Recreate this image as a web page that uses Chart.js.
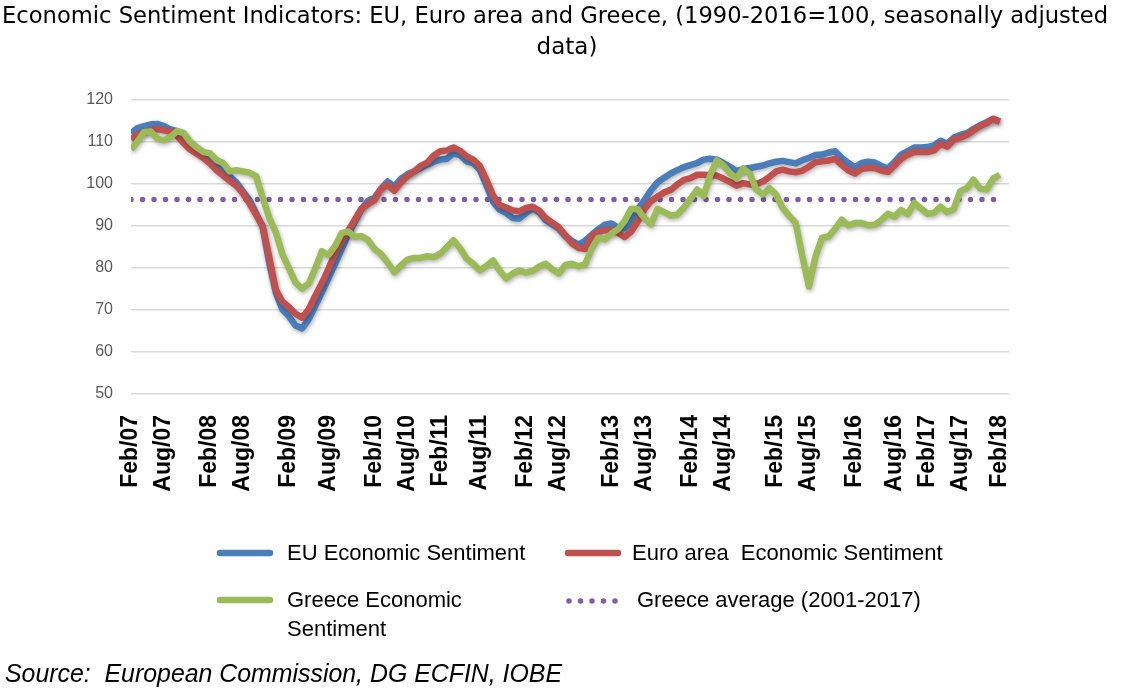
<!DOCTYPE html>
<html>
<head>
<meta charset="utf-8">
<script src="https://cdn.jsdelivr.net/npm/chart.js@4.4.0/dist/chart.umd.min.js"></script>
<style>
  html, body { margin: 0; padding: 0; background: #fff; }
  canvas { display: block; }
</style>
</head>
<body>
<canvas id="myChart" width="1126" height="695"></canvas>
<script>
// monthly values (first point = Feb/07, last = Feb/18)
const euSentiment = [
  112.1, 113.3, 113.8, 114.2, 114.3, 113.8, 113.0, 112.6, 111.8, 109.6, 108.5, 107.4,
  105.8, 104.3, 103.2, 101.8, 100.4, 98.2, 96.2, 93.0, 89.8, 81.3, 74.2, 70.1,
  68.5, 66.3, 65.6, 67.8, 71.0, 74.2, 77.6, 81.0, 84.5, 88.0, 91.0, 94.0,
  96.0, 96.7, 98.9, 100.6, 99.4, 101.2, 102.3, 103.0, 103.8, 104.6, 105.3, 105.8,
  106.0, 107.3, 106.9, 105.4, 105.0, 103.4, 99.7, 95.8, 93.9, 93.1, 91.9, 91.8,
  93.1, 94.2, 93.3, 91.4, 90.4, 89.4, 87.6, 86.4, 85.6, 86.5, 87.9, 89.2,
  90.3, 90.6, 89.6, 89.4, 91.0, 93.9, 96.2, 98.5, 100.4, 101.5, 102.5, 103.3,
  104.0, 104.5, 105.0, 105.8, 106.0, 105.8, 105.0, 104.1, 103.1, 103.5, 103.8, 104.1,
  104.4, 104.9, 105.3, 105.5, 105.2, 104.9, 105.7, 106.2, 106.9, 107.0, 107.5, 107.8,
  106.2, 105.0, 104.0, 105.0, 105.3, 105.1, 104.3, 103.7, 105.2, 107.0, 107.8, 108.7,
  108.7, 108.8, 109.2, 110.3, 109.6, 111.0, 111.7, 112.1, 113.1, 114.0, 114.7, 115.5, 114.9
];
const euroAreaSentiment = [
  110.6, 111.8, 112.3, 112.8, 113.1, 112.8, 112.5, 111.5, 109.7, 108.2, 107.2, 106.2,
  104.9, 103.3, 102.0, 100.8, 99.6, 97.8, 95.4, 92.7, 90.0, 82.5, 74.8, 72.0,
  70.7, 69.1, 68.2, 70.2, 73.4, 76.4, 79.8, 83.5, 86.3, 88.9, 91.5, 94.1,
  95.2, 96.2, 98.9, 99.8, 98.4, 100.4, 101.9, 103.0, 104.3, 105.1, 106.8, 107.8,
  108.0, 108.7, 107.9, 106.6, 105.8, 104.3, 101.0, 97.3, 95.0, 94.4, 93.7, 93.5,
  94.3, 94.6, 93.7, 91.9, 90.8, 89.7, 87.8, 85.9, 84.8, 84.5, 87.5, 88.6,
  89.0, 89.1, 88.4, 87.4, 88.7, 91.1, 94.0, 95.9, 97.0, 98.0, 98.6, 99.9,
  101.0, 101.4, 102.2, 102.2, 102.1, 102.0, 101.3, 100.5, 99.6, 100.2, 99.9, 100.0,
  100.6, 101.7, 103.0, 103.4, 103.0, 102.8, 103.2, 104.1, 105.2, 105.4, 105.6, 106.0,
  104.5, 103.2, 102.5, 103.6, 103.8, 103.8, 103.2, 102.9, 104.4, 106.0, 107.0, 107.6,
  107.6, 107.6, 108.0, 109.6, 108.9, 110.6, 111.0, 111.7, 112.8, 113.8, 114.5, 115.5, 114.8
];
const greeceSentiment = [
  108.2, 110.2, 112.4, 112.5, 110.8, 110.4, 111.2, 112.6, 112.1, 110.0, 108.7, 107.6,
  107.3, 105.7, 105.0, 103.0, 103.3, 103.0, 102.7, 101.9, 96.8, 92.0, 88.5, 83.3,
  79.9, 76.5, 75.1, 76.3, 79.9, 84.0, 83.1, 85.2, 88.3, 88.7, 87.4, 87.6,
  86.7, 84.5, 83.3, 81.3, 79.0, 80.6, 82.0, 82.4, 82.4, 82.8, 82.6, 83.4,
  85.0, 86.6, 84.7, 82.2, 81.0, 79.4, 80.5, 81.8, 79.4, 77.5, 78.7, 79.4,
  78.9, 79.3, 80.3, 81.0, 79.7, 78.7, 80.7, 81.0, 80.4, 80.9, 84.6, 87.2,
  86.8, 88.2, 89.2, 91.2, 94.1, 94.0, 91.9, 90.4, 94.1, 93.3, 92.5, 92.7,
  94.4, 96.4, 98.7, 97.1, 102.1, 105.6, 104.5, 102.6, 101.3, 103.7, 102.5, 98.7,
  97.5, 99.0, 97.5, 94.3, 92.4, 90.7, 82.8, 75.6, 82.8, 87.2, 87.5, 89.4,
  91.5, 90.1, 90.7, 90.7, 90.2, 90.3, 91.4, 92.9, 92.2, 93.8, 92.8, 95.5,
  94.2, 92.9, 93.1, 94.6, 93.3, 94.0, 98.3, 99.0, 101.0, 98.9, 98.7, 101.3, 102.2
];
const greeceAverage = 96.3;

// axis labels and the point index each one sits under
const tickLabels = ['Feb/07', 'Aug/07', 'Feb/08', 'Aug/08', 'Feb/09', 'Aug/09', 'Feb/10', 'Aug/10',
  'Feb/11', 'Aug/11', 'Feb/12', 'Aug/12', 'Feb/13', 'Aug/13', 'Feb/14', 'Aug/14', 'Feb/15',
  'Aug/15', 'Feb/16', 'Aug/16', 'Feb/17', 'Aug/17', 'Feb/18'];
const tickIndex = [0, 5, 12, 17, 24, 30, 37, 42, 47, 53, 60, 65, 73, 78, 85, 90, 98, 103, 110, 116, 121, 126, 132];

const seriesNames = ['EU Economic Sentiment', 'Euro area  Economic Sentiment', 'Greece Economic Sentiment', 'Greece average (2001-2017)'];
const titleLines = ['Economic Sentiment Indicators: EU, Euro area and Greece, (1990-2016=100, seasonally adjusted', 'data)'];
const sourceText = 'Source:  European Commission, DG ECFIN, IOBE';

const blue = '#4A7EBB';
const red = '#C0504D';
const green = '#9BBB59';
const purple = '#7E5FA6';

function toPoints(values) {
  return values.map((v, i) => ({ x: i, y: v }));
}
const lastIndex = euSentiment.length - 1;

// Excel style soft shadow under the solid lines
const lineShadow = {
  id: 'lineShadow',
  beforeDatasetDraw(chart, args) {
    if (chart.data.datasets[args.index].borderDash) return;
    const c = chart.ctx;
    c.save();
    c.shadowColor = 'rgba(0,0,0,0.3)';
    c.shadowBlur = 4;
    c.shadowOffsetX = 1;
    c.shadowOffsetY = 2;
  },
  afterDatasetDraw(chart, args) {
    if (chart.data.datasets[args.index].borderDash) return;
    chart.ctx.restore();
  }
};

// title, two column legend and source line
const extras = {
  id: 'extras',
  afterDraw(chart) {
    const c = chart.ctx;
    const ds = chart.data.datasets;
    c.save();
    c.fillStyle = '#000';
    c.textAlign = 'center';
    c.textBaseline = 'alphabetic';
    c.font = '23px "DejaVu Sans"';
    c.fillText(titleLines[0], 555, 23, 1106);
    c.fillText(titleLines[1], 567, 54);

    function swatch(d, x1, x2, y) {
      c.save();
      c.strokeStyle = d.borderColor;
      c.lineWidth = d.borderWidth;
      c.lineCap = 'round';
      if (d.borderDash) c.setLineDash(d.borderDash);
      c.beginPath();
      c.moveTo(x1, y);
      c.lineTo(x2, y);
      c.stroke();
      c.restore();
    }
    c.textAlign = 'left';
    c.textBaseline = 'middle';
    c.font = '22px "Liberation Sans"';
    swatch(ds[0], 220, 270, 553);
    c.fillText(ds[0].label, 287, 554, 242);
    swatch(ds[1], 568, 618, 553);
    c.fillText(ds[1].label, 632, 554, 318);
    swatch(ds[2], 220, 270, 600);
    c.fillText('Greece Economic', 287, 601, 178);
    c.fillText('Sentiment', 287, 630, 104);
    swatch(ds[3], 569, 620, 601);
    c.fillText(ds[3].label, 637, 601, 290);

    c.textBaseline = 'alphabetic';
    c.font = 'italic 25px "Liberation Sans"';
    c.fillText(sourceText, 5, 682, 557);
    c.restore();
  }
};

new Chart(document.getElementById('myChart'), {
  type: 'line',
  data: {
    datasets: [{
      label: seriesNames[0],
      data: toPoints(euSentiment),
      borderColor: blue,
      borderWidth: 6.5,
      order: 2
    }, {
      label: seriesNames[1],
      data: toPoints(euroAreaSentiment),
      borderColor: red,
      borderWidth: 6.5,
      order: 1
    }, {
      label: seriesNames[2],
      data: toPoints(greeceSentiment),
      borderColor: green,
      borderWidth: 6.5,
      order: 0
    }, {
      label: seriesNames[3],
      data: [{ x: 0, y: greeceAverage }, { x: lastIndex, y: greeceAverage }],
      borderColor: purple,
      borderWidth: 5.5,
      borderDash: [0, 11.5],
      borderCapStyle: 'round',
      order: 3
    }]
  },
  options: {
    responsive: false,
    animation: false,
    layout: {
      padding: { top: 100, right: 117, bottom: 191, left: 0 }
    },
    elements: {
      point: { radius: 0 },
      line: { tension: 0, borderJoinStyle: 'round' }
    },
    scales: {
      x: {
        type: 'linear',
        min: 0,
        max: 133.4,
        grid: { display: false, drawTicks: false },
        border: { display: false },
        afterFit: s => { s.height = 110; },
        afterBuildTicks: s => { s.ticks = tickIndex.map(v => ({ value: v })); },
        ticks: {
          autoSkip: false,
          minRotation: 90,
          maxRotation: 90,
          padding: 21,
          color: '#000',
          font: { family: 'Liberation Sans', size: 23, weight: 'bold' },
          callback: value => tickLabels[tickIndex.indexOf(value)]
        }
      },
      y: {
        min: 50,
        max: 120,
        afterFit: s => { s.width = 131; },
        grid: { color: '#d9d9d9', lineWidth: 1.5, drawTicks: false },
        border: { display: false },
        ticks: {
          stepSize: 10,
          padding: 18,
          color: '#595959',
          font: { family: 'Liberation Sans', size: 16 }
        }
      }
    },
    plugins: {
      legend: { display: false },
      tooltip: { enabled: false }
    }
  },
  plugins: [lineShadow, extras]
});
</script>
</body>
</html>
